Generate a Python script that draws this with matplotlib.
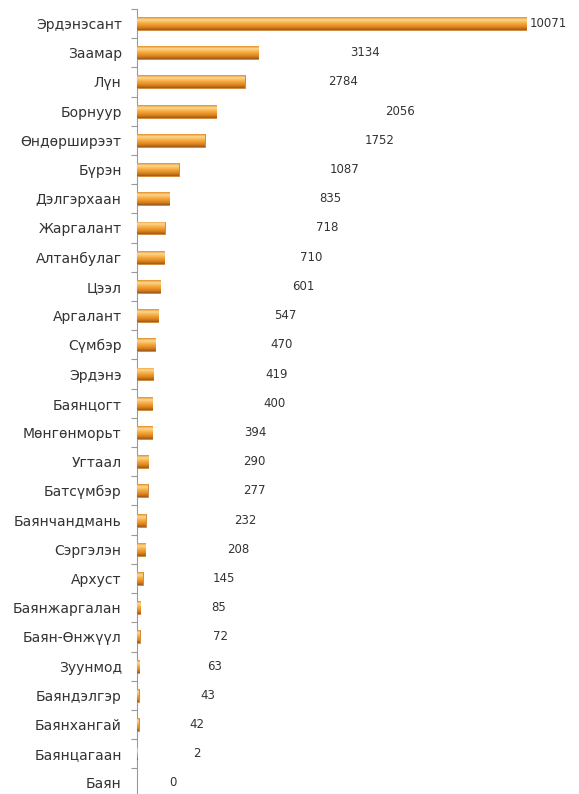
import numpy as np
import matplotlib
matplotlib.use("Agg")
import matplotlib.pyplot as plt
from matplotlib.colors import LinearSegmentedColormap

names = ["Эрдэнэсант", "Заамар", "Лүн", "Борнуур", "Өндөрширээт", "Бүрэн",
         "Дэлгэрхаан", "Жаргалант", "Алтанбулаг", "Цээл", "Аргалант", "Сүмбэр",
         "Эрдэнэ", "Баянцогт", "Мөнгөнморьт", "Угтаал", "Батсүмбэр", "Баянчандмань",
         "Сэргэлэн", "Архуст", "Баянжаргалан", "Баян-Өнжүүл", "Зуунмод",
         "Баяндэлгэр", "Баянхангай", "Баянцагаан", "Баян"]
values = [10071, 3134, 2784, 2056, 1752, 1087, 835, 718, 710, 601, 547, 470,
          419, 400, 394, 290, 277, 232, 208, 145, 85, 72, 63, 43, 42, 2, 0]

# where the value labels sit along the value axis (as in the original layout)
label_x = [10640, 5900, 5330, 6810, 6290, 5380, 5000, 4920, 4500, 4300, 3830,
           3750, 3620, 3550, 3060, 3030, 3030, 2800, 2620, 2250, 2120, 2170,
           2020, 1840, 1550, 1550, 930]

n = len(names)
ypos = np.arange(n)[::-1]

fig = plt.figure(figsize=(5.79, 7.94), dpi=100)
ax = fig.add_axes([0.2366, -0.0045, 0.734, 0.9933])

bars = ax.barh(ypos, values, height=0.44, color="#EE9A2E",
               edgecolor="#C0721F", linewidth=0.5, zorder=2)

# cylinder-like shading on every bar
cmap = LinearSegmentedColormap.from_list(
    "bar", ["#E39026", "#FCD792", "#F7B852", "#EE9A2E", "#D9801F", "#9E5A18"])
grad = np.linspace(0, 1, 64).reshape(-1, 1)
for b in bars:
    x0, y0 = b.get_x(), b.get_y()
    w, h = b.get_width(), b.get_height()
    if w <= 0:
        continue
    im = ax.imshow(grad, cmap=cmap, aspect="auto", origin="upper",
                   extent=[x0, x0 + w, y0, y0 + h], zorder=3, interpolation="bilinear")
    im.set_clip_path(b)

for y, v, lx in zip(ypos, values, label_x):
    ax.text(lx, y, str(v), ha="center", va="center", fontsize=8.5,
            family="DejaVu Sans", color="#333333", clip_on=False)

ax.set_xlim(0, 11000)
ax.set_ylim(-0.5, n - 0.5)
ax.set_yticks(ypos)
ax.set_yticklabels(names, fontsize=10, family="DejaVu Sans", color="#333333")
ax.set_yticks(np.arange(n + 1) - 0.5, minor=True)
ax.tick_params(axis="y", which="major", length=0, pad=11)
ax.tick_params(axis="y", which="minor", length=4, color="#999999", width=0.8)
ax.set_xticks([])
for s in ["top", "right", "bottom"]:
    ax.spines[s].set_visible(False)
ax.spines["left"].set_color("#999999")
ax.spines["left"].set_linewidth(0.8)

fig.savefig("out.png", dpi=100)
